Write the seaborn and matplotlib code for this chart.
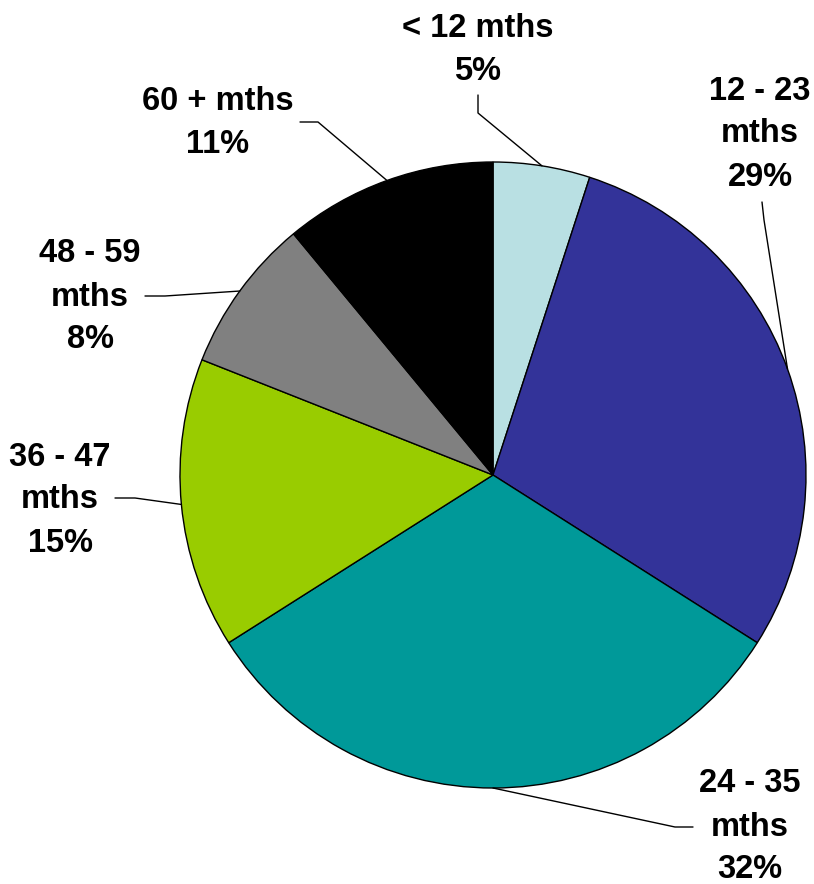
import matplotlib
matplotlib.use("Agg")
import matplotlib.pyplot as plt
import seaborn as sns
import numpy as np

categories = ["< 12 mths", "12 - 23\nmths", "24 - 35\nmths", "36 - 47\nmths", "48 - 59\nmths", "60 + mths"]
values = [5, 29, 32, 15, 8, 11]
colors = ["#B9E0E3", "#333399", "#009999", "#99CC00", "#808080", "#000000"]

sns.set_theme(style="white")
plt.rcParams['font.family'] = ['Liberation Sans', 'DejaVu Sans']

W, H = 814, 884
fig = plt.figure(figsize=(W / 100, H / 100), dpi=100)
ax = fig.add_axes([0, 0, 1, 1])

cx, cy, R = 493, H - 475, 313
wedges, _ = ax.pie(values, colors=colors, startangle=90, counterclock=False,
                   center=(cx, cy), radius=R,
                   wedgeprops=dict(edgecolor="black", linewidth=1.0))
ax.set_xlim(0, W)
ax.set_ylim(0, H)
ax.set_aspect("equal")
ax.axis("off")

# label layout (pixel positions, y from top): text centre, leader start, elbow
layout = [
    ((478, 50), (478, 95), (478, 113)),
    ((760, 134), (762, 202), (764, 220)),
    ((750, 827), (693, 827), (675, 827)),
    ((60, 500), (115, 498), (135, 498)),
    ((90, 297), (145, 296), (165, 296)),
    ((218, 123), (300, 122), (318, 122)),
]

for w, cat, v, (tpos, p0, p1) in zip(wedges, categories, values, layout):
    ang = np.deg2rad((w.theta1 + w.theta2) / 2)
    ex, ey = cx + R * np.cos(ang), cy + R * np.sin(ang)
    ax.plot([p0[0], p1[0], ex], [H - p0[1], H - p1[1], ey], color="black", lw=1.0)
    ax.text(tpos[0], H - tpos[1], f"{cat}\n{v}%", ha="center", va="center",
            fontsize=23.5, fontweight="bold", linespacing=1.5, color="black")

fig.savefig("out.png", dpi=100)
